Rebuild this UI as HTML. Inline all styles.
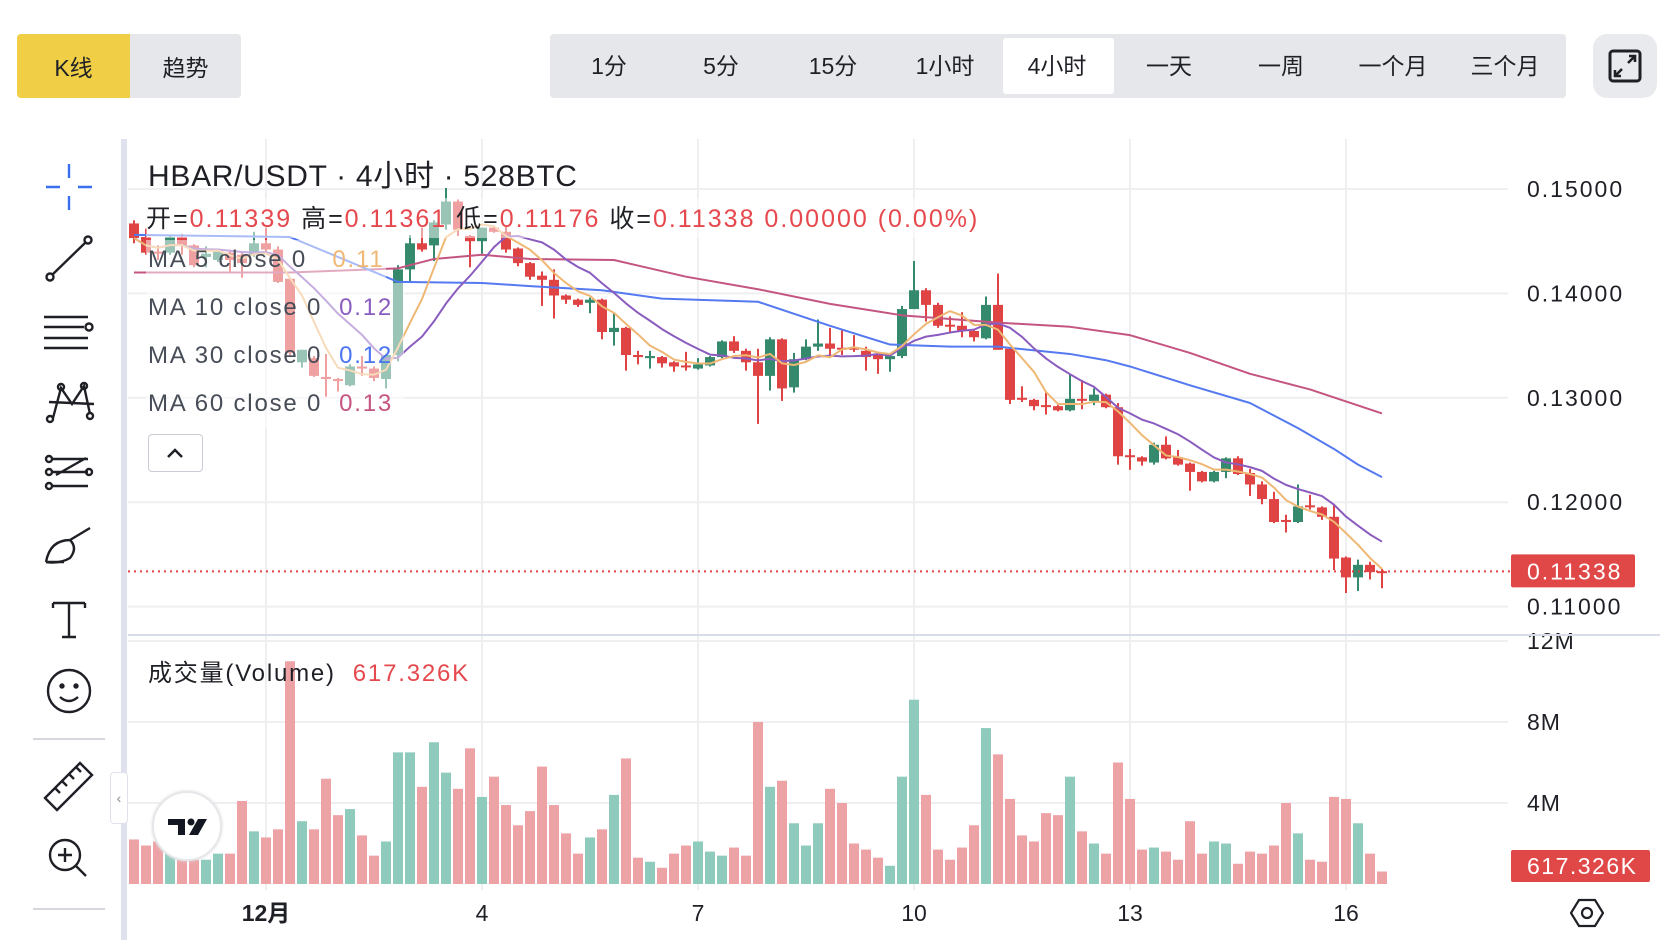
<!DOCTYPE html>
<html><head><meta charset="utf-8">
<style>
html,body{margin:0;padding:0;background:#fff;}
body{width:1678px;height:948px;overflow:hidden;position:relative;font-family:"Liberation Sans","Noto Sans CJK SC",sans-serif;color:#1e2026;}
.btn{position:absolute;display:flex;align-items:center;justify-content:center;font-size:23px;}
</style></head><body>
<div class="btn" style="left:17px;top:34px;width:113px;height:64px;background:#f0cf47;border-radius:4px 0 0 4px;">K线</div>
<div class="btn" style="left:130px;top:34px;width:111px;height:64px;background:#e6e7eb;border-radius:0 4px 4px 0;">趋势</div>
<div style="position:absolute;left:550px;top:34px;width:1016px;height:64px;background:#e6e7eb;border-radius:4px;"></div>
<div style="position:absolute;left:1003px;top:38px;width:111px;height:56px;background:#fff;border-radius:3px;"></div>
<div id="periods"></div>
<div style="position:absolute;left:1593px;top:34px;width:64px;height:64px;background:#e9eaed;border-radius:14px;">
<svg width="64" height="64"><rect x="17" y="17" width="30" height="30" rx="3" fill="none" stroke="#1e2026" stroke-width="3"/><path d="M29 35 L22 42 M22 36 L22 42 L28 42 M35 29 L42 22 M36 22 L42 22 L42 28" fill="none" stroke="#1e2026" stroke-width="2.6"/></svg></div>

<svg id="chart" width="1678" height="948" style="position:absolute;left:0;top:0;"></svg>

<script>
const periodLabels=["1分","5分","15分","1小时","4小时","一天","一周","一个月","三个月"];
const opens=[.1467,.1454,.1440,.1439,.1454,.1446,.1435,.1432,.1439,.1437,.1437,.1448,.1442,.1414,.1334,.1338,.1320,.1318,.1312,.1330,.1328,.1318,.1341,.1423,.1448,.1446,.1466,.1488,.1455,.1450,.1463,.1459,.1443,.1429,.1417,.1413,.1398,.1394,.1391,.1394,.1363,.1367,.1341,.1338,.1339,.1334,.1331,.1328,.1331,.1339,.1354,.1345,.1334,.1321,.1356,.1310,.1337,.1349,.1352,.1348,.1348,.1345,.1341,.1337,.1340,.1385,.1403,.1389,.1370,.1369,.1364,.1357,.1389,.1347,.1300,.1298,.1293,.1292,.1288,.1299,.1297,.1303,.1291,.1245,.1243,.1238,.1255,.1243,.1237,.1229,.1220,.1229,.1242,.1228,.1217,.1203,.1183,.1181,.1197,.1195,.1186,.1147,.1128,.1140,.11339];
const highs=[.1470,.1462,.1446,.1456,.1457,.1447,.1445,.1442,.1442,.1439,.1459,.1463,.1445,.1415,.1346,.1340,.1342,.1319,.1332,.1340,.1330,.1342,.1427,.1456,.1463,.1470,.1501,.1490,.1456,.1463,.1465,.1465,.1444,.1430,.1421,.1423,.1399,.1395,.1396,.1395,.1382,.1368,.1345,.1345,.1340,.1335,.1344,.1338,.1340,.1355,.1359,.1347,.1347,.1358,.1357,.1343,.1356,.1375,.1367,.1365,.1360,.1349,.1342,.1341,.1388,.1431,.1405,.1391,.1378,.1382,.1366,.1397,.1419,.1348,.1311,.1299,.1306,.1293,.1322,.1317,.1309,.1304,.1295,.1251,.1244,.1257,.1263,.1250,.1238,.1230,.1230,.1243,.1244,.1232,.1220,.1210,.1188,.1217,.1207,.1196,.1198,.1148,.1145,.1143,.11361];
const lows=[.1448,.1437,.1432,.1437,.1437,.1425,.1425,.1430,.1421,.1415,.1435,.1440,.1410,.1340,.1329,.1320,.1301,.1306,.1311,.1321,.1316,.1309,.1335,.1410,.1440,.1431,.1461,.1455,.1425,.1438,.1458,.1439,.1426,.1413,.1388,.1376,.1390,.1387,.1381,.1356,.1350,.1326,.1332,.1328,.1329,.1325,.1326,.1327,.1330,.1338,.1343,.1326,.1275,.1307,.1297,.1305,.1336,.1345,.1341,.1341,.1344,.1326,.1323,.1325,.1338,.1385,.1373,.1367,.1362,.1358,.1354,.1356,.1346,.1294,.1296,.1288,.1284,.1287,.1287,.1289,.1293,.1290,.1236,.1231,.1235,.1236,.1241,.1235,.1211,.1219,.1219,.1223,.1226,.1206,.1198,.1180,.1171,.1180,.1193,.1183,.1135,.1113,.1115,.1126,.11176];
const closes=[.1453,.1439,.1439,.1454,.1446,.1427,.1438,.1440,.1432,.1429,.1448,.1442,.1411,.1343,.1346,.1321,.1318,.1316,.1330,.1328,.1319,.1341,.1423,.1448,.1442,.1468,.1488,.1461,.1450,.1463,.1459,.1442,.1429,.1416,.1413,.1398,.1394,.1389,.1394,.1363,.1367,.1341,.1339,.1340,.1333,.1330,.1330,.1332,.1339,.1354,.1345,.1334,.1321,.1356,.1309,.1337,.1349,.1352,.1347,.1347,.1347,.1339,.1337,.1340,.1385,.1403,.1389,.1369,.1369,.1364,.1358,.1389,.1346,.1298,.1299,.1292,.1293,.1288,.1299,.1298,.1303,.1291,.1244,.1244,.1239,.1255,.1242,.1236,.1229,.1220,.1229,.1242,.1227,.1217,.1203,.1181,.1182,.1196,.1196,.1186,.1146,.1128,.1140,.1133,.11338];
const volumes=[2.2,1.9,2.1,1.5,1.3,1.2,1.2,1.5,1.5,4.1,2.6,2.3,2.7,11.0,3.1,2.7,5.2,3.4,3.7,2.4,1.4,2.1,6.5,6.5,4.8,7.0,5.5,4.7,6.7,4.3,5.3,3.9,2.9,3.6,5.8,3.9,2.5,1.5,2.3,2.7,4.4,6.2,1.3,1.1,0.8,1.5,1.9,2.1,1.6,1.4,1.8,1.4,8.0,4.8,5.1,3.0,1.9,3.0,4.7,4.0,2.0,1.7,1.3,0.9,5.3,9.1,4.4,1.7,1.2,1.8,2.9,7.7,6.4,4.2,2.4,2.1,3.5,3.4,5.3,2.6,2.0,1.5,6.0,4.2,1.7,1.8,1.6,1.2,3.1,1.5,2.1,2.0,1.0,1.6,1.5,1.9,4.0,2.5,1.2,1.1,4.3,4.2,3.0,1.5,0.617];
const ma30Idx=[0,13,22,29,33,39,44,52,58,63,68,72,78,81,83,88,93,97,100,102,104];
const ma30Val=[.1456,.1454,.1411,.1410,.1407,.1403,.1395,.1392,.1369,.1351,.1349,.1349,.1342,.1336,.1330,.1312,.1295,.1271,.1251,.1236,.1224];
const ma60Idx=[0,13,22,25,29,33,40,46,52,58,64,72,78,83,88,93,98,104];
const ma60Val=[.1420,.1420,.1424,.1433,.1437,.1433,.1432,.1416,.1404,.1390,.1379,.1372,.1368,.1360,.1343,.1323,.1308,.1285];
const priceTicks=[0.15,0.14,0.13,0.12,0.11];
const volTicks=[12,8,4];
const volTickLabels=["12M","8M","4M"];
const dayIdx=[11,29,47,65,83,101];
const dayLabels=["12月","4","7","10","13","16"];
const lastPrice=0.11338;

const NS="http://www.w3.org/2000/svg";
const svg=document.getElementById('chart');
function yP(p){return 189+(0.15-p)*10440;}
function yV(v){return 884-v*20.25;}
function xI(i){return 134+12*i;}
function mk(tag,attrs,parent){const e=document.createElementNS(NS,tag);for(const k in attrs)e.setAttribute(k,attrs[k]);(parent||svg).appendChild(e);return e;}
const RED="#df4343",GREEN="#35896d",VRED="#eda3a6",VGREEN="#8fcbbd";

const pw=document.getElementById('periods');
periodLabels.forEach((t,k)=>{const d=document.createElement('div');d.className='btn';d.textContent=t;
d.style.cssText='left:'+(553+112*k)+'px;top:32px;width:112px;height:64px;';


pw.appendChild(d);});

priceTicks.forEach(p=>{const l=mk('line',{x1:128,x2:1508,y1:yP(p),y2:yP(p),stroke:'#efeff2','stroke-width':2});


const t=mk('text',{x:1527,y:yP(p)+8,'font-size':23,fill:'#1e2026','letter-spacing':'2'});t.textContent=p.toFixed(5);

});
volTicks.forEach((v,k)=>{const l=mk('line',{x1:128,x2:1508,y1:yV(v),y2:yV(v),stroke:'#efeff2','stroke-width':2});


const t=mk('text',{x:1527,y:yV(v)+8,'font-size':23,fill:'#1e2026','letter-spacing':'1'});t.textContent=volTickLabels[k];

});
dayIdx.forEach((d,k)=>{const l=mk('line',{x1:xI(d),x2:xI(d),y1:139,y2:890,stroke:'#efeff2','stroke-width':2});


const t=mk('text',{x:xI(d),y:921,'font-size':23,fill:'#1e2026','text-anchor':'middle','font-weight':k==0?'bold':'normal'});t.textContent=dayLabels[k];

});

volumes.forEach((v,i)=>{const up=closes[i]>opens[i];const r=mk('rect',{x:xI(i)-5,y:yV(v),width:10,height:v*20.25,fill:up?VGREEN:VRED});

});
const sep=mk('line',{x1:128,x2:1660,y1:635,y2:635,stroke:'#d8dbe8','stroke-width':2});



opens.forEach((o,i)=>{const c=closes[i];const up=c>o;const col=up?GREEN:RED;
const g=mk('g',{});


mk('line',{x1:xI(i),x2:xI(i),y1:yP(highs[i]),y2:yP(lows[i]),stroke:col,'stroke-width':2},g);
const top=yP(Math.max(o,c)),bot=yP(Math.min(o,c));
mk('rect',{x:xI(i)-5,y:top,width:10,height:Math.max(2,bot-top),fill:col},g);});

function maOf(n){return closes.map((_,i)=>{const s=Math.max(0,i-n+1);let t=0;for(let k=s;k<=i;k++)t+=closes[k];return t/(i-s+1);});}
function polyIdx(vals,idx,color,name){const pts=vals.map((v,k)=>xI(idx?idx[k]:k)+','+yP(v)).join(' ');
const p=mk('polyline',{points:pts,fill:'none',stroke:color,'stroke-width':2,'stroke-linejoin':'round'});

}
const ma5=maOf(5),ma10=maOf(10);
polyIdx(ma60Val,ma60Idx,'#c45580','ma60-line');
polyIdx(ma30Val,ma30Idx,'#5479f0','ma30-line');
polyIdx(ma10,null,'#8a5cbf','ma10-line');
polyIdx(ma5,null,'#efb774','ma5-line');

[[146,198,858,40],[146,240,240,43],[146,283,258,50],[146,333,258,50],[146,383,258,46]].forEach(b=>{mk('rect',{x:b[0],y:b[1],width:b[2],height:b[3],fill:'rgba(255,255,255,0.5)'});});

const dl=mk('line',{x1:128,x2:1511,y1:yP(lastPrice),y2:yP(lastPrice),stroke:'#e04343','stroke-width':2,'stroke-dasharray':'2 4'});


const pb=mk('rect',{x:1511,y:yP(lastPrice)-17,width:124,height:33,fill:'#e04848',rx:2});


const pt=mk('text',{x:1527,y:yP(lastPrice)+8,'font-size':23,fill:'#fff','letter-spacing':'2'});pt.textContent=lastPrice.toFixed(5);


const vb=mk('rect',{x:1511,y:850,width:139,height:32,fill:'#e04848',rx:2});


const vt=mk('text',{x:1527,y:874,'font-size':23,fill:'#fff','letter-spacing':'1.5'});vt.textContent='617.326K';


</script>

<div style="position:absolute;left:148px;top:151px;font-size:30px;letter-spacing:0.7px;color:#1e2026;white-space:nowrap;">HBAR/USDT · 4小时 · 528BTC</div>
<div style="position:absolute;left:146px;top:199px;font-size:25px;letter-spacing:2px;white-space:nowrap;color:#1e2026;">开=<span style="color:#e5484d">0.11339</span>&nbsp;高=<span style="color:#e5484d">0.11361</span>&nbsp;低=<span style="color:#e5484d">0.11176</span>&nbsp;收=<span style="color:#e5484d">0.11338</span>&nbsp;<span style="color:#e5484d">0.00000 (0.00%)</span></div>
<div style="position:absolute;left:148px;top:246px;font-size:24px;letter-spacing:1.8px;white-space:nowrap;color:#474d57;">MA 5 close 0&nbsp;&nbsp; <span style="color:#efb774">0.11</span></div>
<div style="position:absolute;left:148px;top:294px;font-size:24px;letter-spacing:1.8px;white-space:nowrap;color:#474d57;">MA 10 close 0&nbsp; <span style="color:#8a5cbf">0.12</span></div>
<div style="position:absolute;left:148px;top:342px;font-size:24px;letter-spacing:1.8px;white-space:nowrap;color:#474d57;">MA 30 close 0&nbsp; <span style="color:#4b74f0">0.12</span></div>
<div style="position:absolute;left:148px;top:390px;font-size:24px;letter-spacing:1.8px;white-space:nowrap;color:#474d57;">MA 60 close 0&nbsp; <span style="color:#c45580">0.13</span></div>
<div style="position:absolute;left:148px;top:434px;width:55px;height:38px;border:1.5px solid #c9ccd4;border-radius:4px;box-sizing:border-box;">
<svg width="52" height="36"><path d="M19 22 L26 15 L33 22" fill="none" stroke="#1e2026" stroke-width="2.5"/></svg></div>
<div style="position:absolute;left:148px;top:653px;font-size:24px;letter-spacing:1.8px;white-space:nowrap;color:#1e2026;">成交量(Volume)&nbsp; <span style="color:#e5484d">617.326K</span></div>
<div style="position:absolute;left:152px;top:791px;width:66px;height:66px;border-radius:50%;background:#fff;border:2px solid #e6e7ea;box-shadow:0 0 3px #ddd;">
<svg width="66" height="66"><path d="M14 26 H31 V42 H24 V32 H14 Z" fill="#131722"/><circle cx="37" cy="29" r="3.5" fill="#131722"/><path d="M44 26 H53 L44 42 H35 Z" fill="#131722"/></svg></div>
<div style="position:absolute;left:1570px;top:897px;">
<svg width="34" height="32"><path d="M9 3 H25 L33 16 L25 29 H9 L1 16 Z" fill="none" stroke="#1e2026" stroke-width="2.2"/><circle cx="17" cy="16" r="5" fill="none" stroke="#1e2026" stroke-width="2.2"/></svg></div>

<div style="position:absolute;left:121px;top:139px;width:6px;height:801px;background:#dfe2ec;"></div>
<div style="position:absolute;left:110px;top:772px;width:16px;height:50px;background:#fff;border:1px solid #dfe2ec;border-radius:4px;font-size:14px;color:#888;display:flex;align-items:center;justify-content:center;">‹</div>
<svg width="110" height="948" style="position:absolute;left:0;top:0;" fill="none" stroke="#1e2026" stroke-width="2.4">
<g stroke="#3a6ff0"><path d="M69 164v14M69 196v14M46 187h14M78 187h14"/></g>
<g><path d="M52 275 L86 242"/><circle cx="50" cy="277" r="3.5"/><circle cx="88" cy="240" r="3.5"/></g>
<g><path d="M44 317h44M44 327h40M44 338h44M44 348h44"/><circle cx="89" cy="327" r="3.5"/></g>
<g><path d="M53 418 L61 388 L72 404 L84 386 L90 414 M49 402 L94 404"/><circle cx="50" cy="419" r="3"/><circle cx="61" cy="387" r="3"/><circle cx="84" cy="386" r="3"/><circle cx="90" cy="416" r="3"/></g>
<g><path d="M52 459h36M52 472h36M52 486h36M56 475 L86 458"/><circle cx="49" cy="459" r="3"/><circle cx="49" cy="472" r="3"/><circle cx="49" cy="486" r="3"/><circle cx="89" cy="472" r="3"/></g>
<g><path d="M46 562 Q50 540 70 540 Q78 548 70 558 Q60 564 46 562 M70 540 L90 528"/><path d="M46 562 h18"/></g>
<g><path d="M53 603h32M69 603v34M62 637h14M53 603v5M85 603v5"/></g>
<g><circle cx="69" cy="691" r="21"/><circle cx="62" cy="686" r="1.5" fill="#1e2026"/><circle cx="76" cy="686" r="1.5" fill="#1e2026"/><path d="M60 697 Q69 705 78 697"/></g>
<path d="M33 739h72" stroke="#d6d8de" stroke-width="2"/>
<g><path d="M45 798 L80 763 L92 775 L57 810 Z M55 788l5 5M62 781l5 5M69 774l5 5M76 767l5 5"/></g>
<g><circle cx="65" cy="855" r="15"/><path d="M76 866 L86 876 M58 855h14M65 848v14"/></g>
<path d="M33 909h72" stroke="#d6d8de" stroke-width="2"/>
</svg>
</body></html>
